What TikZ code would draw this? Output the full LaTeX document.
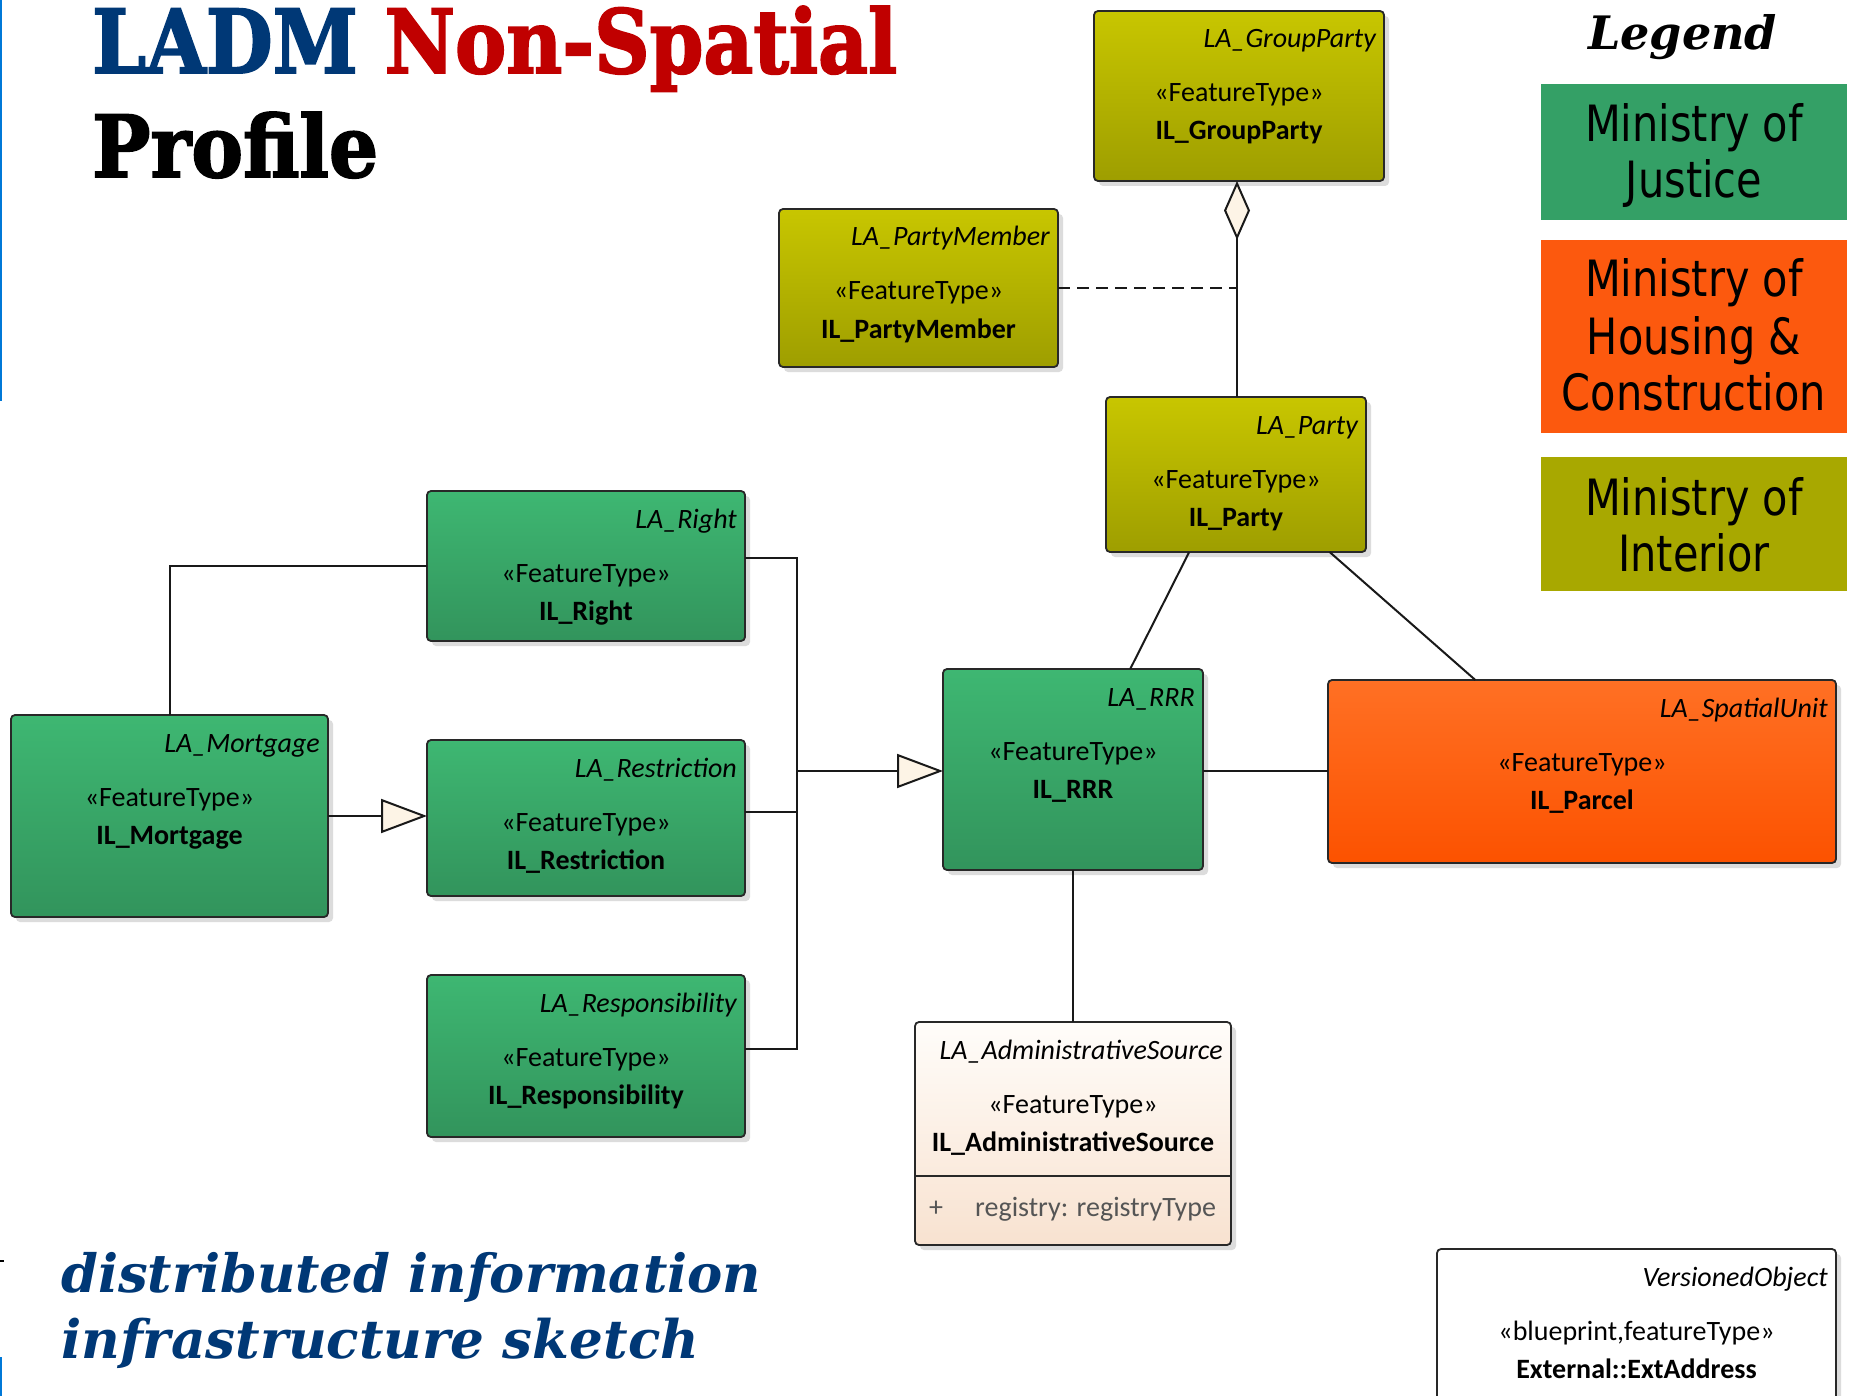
\documentclass[tikz,border=0pt]{standalone}
\usepackage{fontspec}
\usepackage{graphicx}
\usetikzlibrary{arrows.meta,shadows,calc}
\newfontfamily\boxfont{Carlito}
\newfontfamily\legfont[FakeStretch=0.83]{DejaVu Sans}
\newfontfamily\slabfont[BoldFeatures={FakeBold=1.2}]{DejaVu Serif}
\newfontfamily\slabheavy[BoldFeatures={FakeBold=2.2}]{DejaVu Serif}
\definecolor{gTop}{RGB}{62,183,114}
\definecolor{gBot}{RGB}{50,148,92}
\definecolor{oTop}{RGB}{200,198,0}
\definecolor{oBot}{RGB}{158,158,0}
\definecolor{rTop}{RGB}{255,112,36}
\definecolor{rBot}{RGB}{252,82,0}
\definecolor{aTop}{RGB}{255,253,250}
\definecolor{aBot}{RGB}{248,226,208}
\definecolor{boxline}{RGB}{40,40,40}
\definecolor{connline}{RGB}{25,25,25}
\definecolor{tipfill}{RGB}{253,244,230}
\definecolor{ladmblue}{RGB}{0,56,118}
\definecolor{nsred}{RGB}{192,0,0}
\definecolor{legGreen}{RGB}{52,160,102}
\definecolor{legOrange}{RGB}{252,89,14}
\definecolor{legOlive}{RGB}{168,168,0}
\definecolor{edgeblue}{RGB}{0,120,215}
\definecolor{attrgray}{RGB}{85,85,85}

\tikzset{
  umlshape/.style={draw=boxline, line width=1.8pt, rounded corners=4pt,
    inner sep=0pt, outer sep=0pt,
    drop shadow={shadow xshift=5pt, shadow yshift=-5pt, fill=black!45, opacity=0.3}},
  greenbox/.style={umlshape, top color=gTop, bottom color=gBot},
  olivebox/.style={umlshape, top color=oTop, bottom color=oBot},
  orangebox/.style={umlshape, top color=rTop, bottom color=rBot},
  adminbox/.style={umlshape, top color=aTop, bottom color=aBot},
  whitebox/.style={umlshape, fill=white},
  ttl/.style={inner sep=0pt, font={\boxfont\fontsize{28}{32}\selectfont\itshape}},
  ster/.style={inner sep=0pt, font={\boxfont\fontsize{28}{32}\selectfont}},
  idn/.style={inner sep=0pt, font={\boxfont\fontsize{28}{32}\selectfont\bfseries}},
  attr/.style={inner sep=0pt, text=attrgray, font={\boxfont\fontsize{28}{32}\selectfont}},
  conn/.style={draw=connline, line width=2pt},
  gen/.style={-{Triangle[length=46pt,width=34pt,fill=tipfill]}},
  agg/.style={{Diamond[length=59pt,width=26pt,fill=tipfill]}-},
  dashline/.style={dash pattern=on 12pt off 7pt},
  legbox/.style={inner sep=0pt, outer sep=0pt, anchor=north west, minimum width=306},
  legtxt/.style={inner sep=0pt, anchor=base, font={\legfont\fontsize{50}{57}\selectfont}},
}

\newcommand\umlbox[9]{%
  \node[#6, anchor=north west, minimum width={#4-#2}, minimum height={#5-#3}] (#1) at (#2,#3) {};
  \node[ttl, anchor=base east] (#1-t) at ($(#1.north east)+(-8,37)$) {#7};
  \node[ster, anchor=base] (#1-s) at ($(#1.north)+(0,91)$) {«#8»};
  \node[idn, anchor=base] (#1-n) at ($(#1.north)+(0,129)$) {#9};
}

\begin{document}
\begin{tikzpicture}[x=1pt,y=-1pt]
\useasboundingbox (0,0) rectangle (1851,1396);
\fill[white] (0,0) rectangle (1851,1396);
\clip (0,0) rectangle (1851,1396);

% left edge marks
\draw[edgeblue, line width=2.5pt] (1,0) -- (1,401);
\draw[edgeblue, line width=2.5pt] (1,1357) -- (1,1396);
\draw[black, line width=1.5pt] (0,1261) -- (4,1261);

% title
\node[anchor=base west, inner sep=0pt] (title1) at (92,73)
  {\resizebox{805pt}{67pt}{\slabheavy\bfseries\fontsize{88}{88}\selectfont\textcolor{ladmblue}{LADM} \textcolor{nsred}{Non-Spatial}}};
\node[anchor=base west, inner sep=0pt] (title2) at (92,177)
  {\resizebox{286pt}{65pt}{\slabheavy\bfseries\fontsize{88}{88}\selectfont Profile}};

% subtitle
\node[anchor=base west, inner sep=0pt, text=ladmblue] (sub1) at (61,1292)
  {\resizebox{700pt}{!}{\slabfont\bfseries\itshape\fontsize{60}{60}\selectfont distributed information}};
\node[anchor=base west, inner sep=0pt, text=ladmblue] (sub2) at (61,1358)
  {\resizebox{638pt}{!}{\slabfont\bfseries\itshape\fontsize{60}{60}\selectfont infrastructure sketch}};

% legend
\node[anchor=base west, inner sep=0pt] (legt) at (1588,50)
  {\resizebox{189pt}{!}{\slabheavy\bfseries\itshape\fontsize{40}{40}\selectfont Legend}};
\node[legbox, fill=legGreen, minimum height=136] (L1) at (1541,84) {};
\node[legbox, fill=legOrange, minimum height=193] (L2) at (1541,240) {};
\node[legbox, fill=legOlive, minimum height=134] (L3) at (1541,457) {};
\node[legtxt] (L1a) at (1694,142) {Ministry of};
\node[legtxt] (L1b) at (1694,198) {Justice};
\node[legtxt] (L2a) at (1694,297) {Ministry of};
\node[legtxt] (L2b) at (1694,354) {Housing \&};
\node[legtxt] (L2c) at (1694,410) {Construction};
\node[legtxt] (L3a) at (1694,515) {Ministry of};
\node[legtxt] (L3b) at (1694,571) {Interior};

% classes
\umlbox{GP}{1094}{11}{1384}{181}{olivebox}{LA\_GroupParty}{FeatureType}{IL\_GroupParty}
\umlbox{PM}{779}{209}{1058}{367}{olivebox}{LA\_PartyMember}{FeatureType}{IL\_PartyMember}
\umlbox{PA}{1106}{397}{1366}{552}{olivebox}{LA\_Party}{FeatureType}{IL\_Party}
\umlbox{RI}{427}{491}{745}{641}{greenbox}{LA\_Right}{FeatureType}{IL\_Right}
\umlbox{MO}{11}{715}{328}{917}{greenbox}{LA\_Mortgage}{FeatureType}{IL\_Mortgage}
\umlbox{RE}{427}{740}{745}{896}{greenbox}{LA\_Restriction}{FeatureType}{IL\_Restriction}
\umlbox{RS}{427}{975}{745}{1137}{greenbox}{LA\_Responsibility}{FeatureType}{IL\_Responsibility}
\umlbox{RRR}{943}{669}{1203}{870}{greenbox}{LA\_RRR}{FeatureType}{IL\_RRR}
\umlbox{SU}{1328}{680}{1836}{863}{orangebox}{LA\_SpatialUnit}{FeatureType}{IL\_Parcel}
\umlbox{AS}{915}{1022}{1231}{1245}{adminbox}{LA\_AdministrativeSource}{FeatureType}{IL\_AdministrativeSource}
\umlbox{VO}{1437}{1249}{1836}{1425}{whitebox}{VersionedObject}{blueprint,featureType}{External::ExtAddress}

% attribute compartment
\coordinate (ASsep) at (0,1176);
\draw[draw=boxline, line width=1.8pt] (AS.west |- ASsep) -- (AS.east |- ASsep);
\node[attr, anchor=base west] (AS-a) at (929,1216) {+};
\node[attr, anchor=base west] (AS-b) at (975,1216) {registry: registryType};

% connectors
\coordinate (busx) at (797,0);
\coordinate (yRI) at (0,558);
\coordinate (yRE) at (0,812);
\coordinate (yRS) at (0,1049);
\coordinate (yRRR) at (0,771);
\coordinate (aggx) at (1237,0);

\draw[conn] (MO.north) |- (RI.west);
\draw[conn, gen] (MO.east) -- (MO.east -| RE.west);
\draw[conn] (RI.east |- yRI) -| (busx |- yRS) -- (RS.east |- yRS);
\draw[conn] (RE.east |- yRE) -- (busx |- yRE);
\draw[conn, gen] (busx |- yRRR) -- (RRR.west |- yRRR);
\draw[conn] (RRR.east |- yRRR) -- (SU.west |- yRRR);
\draw[conn] (RRR.south) -- (AS.north);
\draw[conn] ($(PA.south west)!0.32!(PA.south east)$) -- ($(RRR.north west)!0.72!(RRR.north east)$);
\draw[conn] ($(PA.south west)!0.86!(PA.south east)$) -- ($(SU.north west)!0.29!(SU.north east)$);
\draw[conn, agg] (aggx |- GP.south) -- (aggx |- PA.north);
\draw[conn, dashline] (PM.east) -- (PM.east -| aggx);
\end{tikzpicture}
\end{document}
